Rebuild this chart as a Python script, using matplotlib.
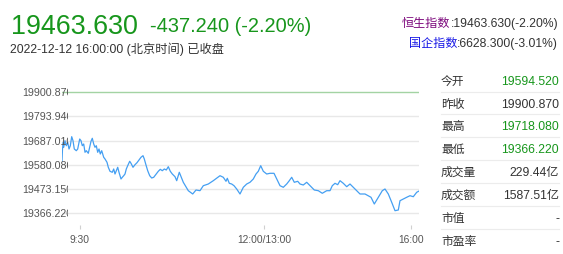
import matplotlib
matplotlib.use("Agg")
import matplotlib.pyplot as plt
from matplotlib.transforms import Bbox, TransformedBbox, blended_transform_factory

plt.rcParams['font.family'] = ['Liberation Sans', 'Noto Sans CJK SC', 'DejaVu Sans']

# ---------------- data ----------------
last_price = "19463.630"
change_text = "-437.240 (-2.20%)"
date_text = "2022-12-12 16:00:00 (北京时间) 已收盘"
idx_labels = ["恒生指数", "国企指数"]
idx_values = [":19463.630(-2.20%)", ":6628.300(-3.01%)"]

prev_close = 19900.87
y_ticks = [19900.870, 19793.940, 19687.010, 19580.080, 19473.150, 19366.220]
x_tick_pos = [18, 202, 349]
x_tick_labels = ["9:30", "12:00/13:00", "16:00"]

pos = [0, 0.5, 1.3, 1.7, 3.0, 4.3, 5.7, 7.0, 8.3, 9.7, 11.0, 12.3, 14.3, 15.7, 17.7,
       19.0, 20.3, 21.7, 23.0, 24.3, 26.3, 27.7, 29.0, 30.3, 31.7, 33.0, 34.3, 35.7,
       37.0, 38.3, 39.7, 41.7, 43.0, 45.0, 46.3, 48.0, 50.3, 51.7, 53.0, 54.3, 55.7,
       57.0, 59.0, 60.3, 61.7, 63.0, 64.3, 65.7, 67.7, 69.0, 71.0, 73.0, 75.0, 77.0,
       79.0, 81.0, 82.3, 83.7, 85.7, 87.7, 89.7, 91.7, 93.7, 96.3, 98.3, 100.3, 102.3,
       104.3, 106.3, 108.3, 110.3, 113.0, 114.7, 117.3, 121.3, 126.3, 130.7, 134.0,
       138.0, 141.3, 146.3, 151.3, 158.0, 161.3, 164.0, 165.3, 167.3, 169.7, 172.0,
       174.7, 178.0, 181.3, 184.7, 188.0, 191.3, 194.0, 196.3, 198.7, 201.3, 204.7,
       208.0, 212.0, 214.7, 218.0, 221.3, 224.7, 227.3, 229.7, 232.3, 235.7, 238.0,
       241.3, 244.7, 248.0, 252.3, 256.3, 260.3, 264.7, 268.0, 270.3, 273.0, 275.7,
       278.0, 281.3, 284.7, 288.0, 291.3, 294.7, 298.0, 303.0, 309.0, 312.3, 316.3,
       320.3, 323.0, 326.3, 329.7, 333.0, 336.3, 338.0, 341.3, 344.7, 348.0, 351.3,
       354.7, 357.0]
price = [19594.52, 19649.8, 19679.5, 19657.4, 19686.6, 19664.4, 19679.5, 19649.8,
         19664.4, 19704.3, 19686.6, 19649.8, 19642.3, 19649.8, 19694.1, 19686.6,
         19664.4, 19672.0, 19635.2, 19642.3, 19630.8, 19657.4, 19683.9, 19697.2,
         19672.0, 19657.4, 19664.4, 19635.2, 19649.8, 19627.7, 19642.3, 19613.1,
         19605.6, 19590.9, 19568.8, 19551.1, 19546.7, 19561.3, 19539.1, 19553.7,
         19568.8, 19546.7, 19517.0, 19524.5, 19531.6, 19539.1, 19561.3, 19575.9,
         19595.4, 19586.5, 19568.8, 19580.3, 19589.2, 19601.1, 19613.1, 19620.2,
         19605.6, 19583.4, 19553.7, 19531.6, 19521.4, 19524.5, 19536.0, 19551.1,
         19559.9, 19553.7, 19561.3, 19556.8, 19571.5, 19551.1, 19539.1, 19527.2,
         19509.5, 19546.7, 19502.4, 19465.2, 19450.6, 19468.3, 19465.2, 19487.3,
         19494.8, 19509.5, 19531.6, 19524.5, 19506.8, 19520.1, 19497.9, 19494.8,
         19487.3, 19472.7, 19450.6, 19480.2, 19494.8, 19502.4, 19517.0, 19539.1,
         19551.1, 19575.9, 19551.1, 19539.1, 19542.2, 19542.2, 19517.0, 19487.3,
         19480.2, 19494.8, 19509.5, 19524.5, 19502.4, 19506.8, 19494.8, 19490.4,
         19502.4, 19487.3, 19468.3, 19465.2, 19453.7, 19465.2, 19465.2, 19487.3,
         19497.9, 19491.8, 19509.5, 19497.9, 19482.9, 19494.8, 19480.2, 19465.2,
         19450.6, 19450.6, 19436.0, 19406.3, 19436.0, 19465.2, 19472.7, 19450.6,
         19413.8, 19376.6, 19379.7, 19420.9, 19428.4, 19436.0, 19443.0, 19438.6,
         19458.1, 19463.63]

table_labels = ["今开", "昨收", "最高", "最低", "成交量", "成交额", "市值", "市盈率"]
table_values = ["19594.520", "19900.870", "19718.080", "19366.220", "229.44亿", "1587.51亿", "-", "-"]
table_green = [True, False, True, True, False, False, False, False]

# ---------------- figure ----------------
W, H = 563, 255
fig = plt.figure(figsize=(W / 100, H / 100), dpi=100)
fig.patch.set_facecolor("white")

def fx(px):
    return px / W

def fy(py):
    return 1 - py / H

GREEN = "#17961c"
DARK = "#333333"

ax = fig.add_axes([fx(62), fy(226), fx(419) - fx(62), fy(85) - fy(226)])
ax.set_xlim(0, 357)
ax.set_ylim(19313.3, 19937.6)
for s in ax.spines.values():
    s.set_visible(False)

for v in y_ticks[1:]:
    ax.axhline(v, color="#e8e8e8", lw=1.0, zorder=1)
ax.axhline(prev_close, color="#a3d3a3", lw=1.0, zorder=1)

ax.plot(pos, price, color="#449ff2", lw=0.9, zorder=3)

ax.set_yticks([])
ax.set_xticks(x_tick_pos)
ax.set_xticklabels(x_tick_labels, fontsize=7.4, color="#555555")
ax.tick_params(axis="x", length=3, width=0.8, color="#d0d0d0", pad=3.5)

# clipped y labels
clip = TransformedBbox(Bbox([[0, 0], [fx(67.5), 1]]), fig.transFigure)
btr = blended_transform_factory(fig.transFigure, ax.transData)
for v in y_ticks:
    t = fig.text(fx(22), v, f"{v:.3f}", transform=btr, ha="left", va="center",
                 fontsize=7.7, color="#555555")
    t.set_clip_box(clip)
    t.set_clip_on(True)

# header
fig.text(fx(11), fy(33.5), last_price, fontsize=19.4, color=GREEN, ha="left", va="baseline")
fig.text(fx(150), fy(32), change_text, fontsize=14.4, color=GREEN, ha="left", va="baseline")
fig.text(fx(10), fy(49.5), date_text, fontsize=8.8, color=DARK, ha="left", va="center")

# index info, right aligned
fig.canvas.draw()
renderer = fig.canvas.get_renderer()
idx_colors = ["#7d0a7d", "#1a1ae6"]
for i, (lab, val) in enumerate(zip(idx_labels, idx_values)):
    yy = fy(23.5 + i * 20)
    tv = fig.text(fx(558), yy, val, fontsize=8.7, color=DARK, ha="right", va="center")
    bb = tv.get_window_extent(renderer)
    fig.text(bb.x0 / W, yy, lab, fontsize=8.7, color=idx_colors[i], ha="right", va="center")

# table
row0 = 81.7
step = 22.86
for i, (lab, val, g) in enumerate(zip(table_labels, table_values, table_green)):
    yc = row0 + i * step
    fig.text(fx(441), fy(yc), lab, fontsize=8.5, color=DARK, ha="left", va="center")
    fig.text(fx(559), fy(yc), val, fontsize=8.7, color=GREEN if g else DARK,
             ha="right", va="center")
    if i < len(table_labels) - 1:
        ys = fy(yc + step / 2 - 0.6)
        fig.add_artist(plt.Line2D([fx(441), fx(559)], [ys, ys], color="#ececec",
                                  lw=0.8, transform=fig.transFigure))

fig.savefig("out.png", dpi=100, facecolor="white")
